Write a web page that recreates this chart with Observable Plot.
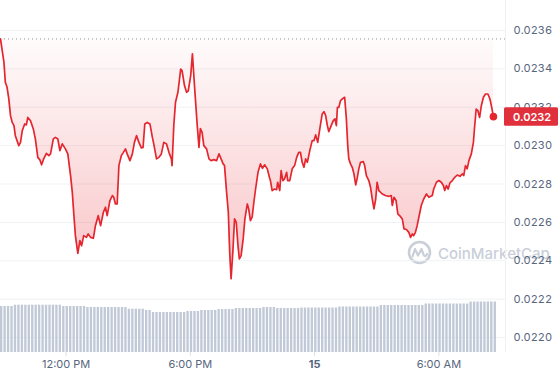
<!DOCTYPE html>
<html><head><meta charset="utf-8">
<script src="https://cdn.jsdelivr.net/npm/d3@7"></script>
<script src="https://cdn.jsdelivr.net/npm/@observablehq/plot@0.6"></script>
<style>
html,body{margin:0;padding:0;background:#fff;}
#chart{position:relative;width:558px;height:380px;font-family:Inter, sans-serif;}
#chart svg{position:absolute;left:0;top:0;overflow:hidden;}
</style></head><body><div id="chart"></div>
<script>
// ---- data ----
const startTime = "2024-06-14T08:50:00Z";
const endTime = "2024-06-15T09:13:00Z";
const priceMinutes = [0,10,14,19,24,29,34,39,43,53,58,63,70,75,79,87,95,101,108,114,119,125,133,140,145,153,159,166,172,179,188,195,203,208,212,217,224,230,235,241,249,254,261,269,275,283,290,298,304,309,317,324,328,333,338,343,350,356,362,367,375,382,388,394,401,408,413,418,425,433,440,444,452,459,466,473,481,488,495,497,502,507,514,522,526,533,539,544,551,556,562,570,575,579,584,589,597,604,610,618,626,633,639,645,649,655,660,664,668,673,678,683,688,692,697,703,708,715,719,724,729,734,739,746,753,759,765,773,779,782,787,794,800,803,809,813,818,823,829,832,838,845,852,858,864,869,874,879,884,889,896,903,908,913,919,925,932,937,942,947,951,958,964,969,973,976,980,985,992,997,1002,1006,1009,1014,1019,1024,1029,1033,1038,1043,1051,1055,1060,1067,1072,1077,1082,1087,1091,1096,1106,1115,1125,1132,1135,1140,1146,1151,1159,1164,1169,1176,1183,1188,1193,1197,1202,1207,1212,1219,1226,1234,1241,1251,1255,1263,1270,1277,1283,1287,1292,1297,1302,1309,1316,1323,1331,1338,1342,1347,1352,1357,1364,1370,1373,1378,1383,1388,1393,1399,1405,1412,1418,1423,1428];
const priceValues = [0.023556,0.023434,0.023330,0.023304,0.023245,0.023156,0.023121,0.023104,0.023052,0.023000,
0.023017,0.023078,0.023113,0.023108,0.023147,0.023130,0.023087,0.023035,0.022939,0.022926,
0.022900,0.022931,0.022960,0.022948,0.022957,0.023035,0.023043,0.023035,0.022974,0.023009,
0.022983,0.022957,0.022844,0.022757,0.022653,0.022531,0.022439,0.022505,0.022479,0.022531,
0.022522,0.022540,0.022522,0.022517,0.022583,0.022635,0.022583,0.022653,0.022679,0.022635,
0.022714,0.022740,0.022731,0.022696,0.022696,0.022896,0.022948,0.022965,0.022983,0.022957,
0.022922,0.022957,0.023017,0.023052,0.023017,0.022988,0.022991,0.023113,0.023121,0.023113,
0.023043,0.023009,0.022931,0.022939,0.022957,0.023017,0.023009,0.022965,0.022931,0.022896,
0.023104,0.023226,0.023278,0.023399,0.023391,0.023313,0.023278,0.023286,0.023365,0.023478,
0.023313,0.023104,0.022991,0.023089,0.023069,0.023000,0.022983,0.022931,0.022922,0.022927,
0.022922,0.022957,0.022931,0.022905,0.022896,0.022757,0.022653,0.022444,0.022306,0.022444,
0.022618,0.022601,0.022479,0.022410,0.022427,0.022514,0.022618,0.022696,0.022670,0.022609,
0.022627,0.022705,0.022774,0.022861,0.022905,0.022882,0.022900,0.022879,0.022835,0.022818,
0.022766,0.022774,0.022771,0.022809,0.022766,0.022870,0.022818,0.022827,0.022861,0.022818,
0.022818,0.022879,0.022896,0.022939,0.022965,0.022965,0.022913,0.022887,0.022931,0.022913,
0.022974,0.023026,0.023026,0.023056,0.023017,0.023087,0.023165,0.023177,0.023156,0.023104,
0.023073,0.023104,0.023130,0.023139,0.023104,0.023199,0.023199,0.023234,0.023246,0.023252,
0.023139,0.023000,0.022931,0.022905,0.022887,0.022853,0.022795,0.022827,0.022879,0.022913,
0.022917,0.022896,0.022844,0.022818,0.022783,0.022722,0.022670,0.022722,0.022809,0.022766,
0.022748,0.022740,0.022736,0.022740,0.022688,0.022731,0.022714,0.022644,0.022630,0.022618,
0.022566,0.022563,0.022548,0.022522,0.022540,0.022531,0.022548,0.022583,0.022627,0.022688,
0.022722,0.022748,0.022731,0.022740,0.022774,0.022809,0.022818,0.022809,0.022792,0.022766,
0.022792,0.022774,0.022806,0.022818,0.022835,0.022847,0.022840,0.022853,0.022844,0.022896,
0.022879,0.022922,0.022957,0.023017,0.023087,0.023191,0.023182,0.023147,0.023208,0.023252,
0.023269,0.023269,0.023243,0.023199,0.023151];
// volume per 10-minute interval (millions, estimated)
const volumeValues = [4.6,4.6,4.6,4.6,
4.73,4.73,4.73,4.73,4.73,4.73,4.73,4.73,4.73,4.73,4.73,4.73,4.73,4.73,
4.6,4.6,4.6,4.6,4.6,4.6,4.6,
4.5,4.5,4.5,4.5,4.5,4.5,4.5,4.5,4.5,4.5,4.5,4.5,
4.33,4.33,4.33,4.33,4.33,
4.2,4.2,
4.0,4.0,4.0,4.0,4.0,4.0,4.0,4.0,4.0,4.0,
4.1,4.1,4.1,4.1,
4.2,4.2,4.2,4.2,4.2,
4.3,4.3,4.3,4.3,4.3,
4.4,4.4,4.4,4.4,4.4,4.4,4.4,4.4,
4.5,4.5,4.5,4.5,
4.4,4.4,4.4,4.4,4.4,4.4,4.4,
4.45,4.45,4.45,4.45,4.45,4.45,4.45,4.45,4.45,4.45,4.45,
4.55,4.55,4.55,4.55,4.55,4.55,4.55,4.55,4.55,4.55,4.55,4.55,
4.7,4.7,4.7,4.7,4.7,4.7,4.7,4.7,4.7,4.7,4.7,4.7,4.7,
4.85,4.85,4.85,4.85,4.85,4.85,4.85,4.85,4.85,4.85,4.85,4.85,4.85,
5.05,5.05,5.05,5.05,5.05,5.05,5.05,5.05];
const volumeIntervalMinutes = 10;
const yTickValues = [0.0220,0.0222,0.0224,0.0226,0.0228,0.0230,0.0232,0.0234,0.0236];
const xTickTimes = ["2024-06-14T12:00:00Z","2024-06-14T18:00:00Z","2024-06-15T00:00:00Z","2024-06-15T06:00:00Z"];
const xTickLabels = ["12:00 PM","6:00 PM","15","6:00 AM"];
const currentLabel = "0.0232";
const watermarkText = "CoinMarketCap";

// ---- build ----
const t0 = new Date(startTime);
const price = priceMinutes.map((m,i)=>({t:new Date(+t0 + m*60000), v:priceValues[i]}));
const vol = volumeValues.map((v,i)=>({t1:new Date(+t0 + i*volumeIntervalMinutes*60000), t2:new Date(+t0 + (i+1)*volumeIntervalMinutes*60000), v}));
const openValue = priceValues[0];
const last = price[price.length-1];
const xDomain = [new Date(startTime), new Date(endTime)];
const xTicks = xTickTimes.map(d=>new Date(d));
const tickObjs = xTicks.map((d,i)=>({d, label:xTickLabels[i]}));

const W=558, H=380, mT=30, mB=28, mL=0, mR=53;
const yDomain = [0.021922, 0.0236];
const pxPerUnit = (H-mT-mB)/(yDomain[1]-yDomain[0]);
const txt = "#58667e", grid="#eff2f5", red="#e4262f";

const chart = Plot.plot({
  width:W, height:H, marginTop:mT, marginBottom:mB, marginLeft:mL, marginRight:mR,
  style:{fontFamily:"Inter, sans-serif", fontSize:"11px", color:txt, background:"transparent"},
  x:{type:"utc", domain:xDomain, axis:null},
  y:{domain:yDomain, axis:null},
  marks:[
    Plot.gridY(yTickValues, {stroke:grid, strokeOpacity:1}),
    Plot.ruleX([xDomain[1]], {y1:yDomain[0], y2:0.0245, stroke:grid, strokeOpacity:1}),
    Plot.areaY(price, {x:"t", y1:"v", y2:()=>openValue, fill:"url(#priceGradient)"}),
    Plot.ruleY([openValue], {stroke:"#8a8f99", strokeDasharray:"1,3", strokeWidth:1}),
    Plot.line(price, {x:"t", y:"v", stroke:red, strokeWidth:1.7, curve:"linear"}),
    Plot.dot([last], {x:"t", y:"v", r:3.8, fill:red}),
    Plot.axisY(yTickValues, {anchor:"right", label:null, tickSize:0, tickPadding:8, textAnchor:"start", tickFormat:d=>d.toFixed(4), fill:txt, fontSize:11}),
    Plot.ruleX(xTicks, {x:d=>d, y1:yDomain[0], y2:yDomain[0]-4/pxPerUnit, stroke:"#dde1e6"}),
    Plot.text(tickObjs.filter(o=>o.label!=="15"), {x:"d", text:"label", frameAnchor:"bottom", dy:15, fill:txt, fontSize:11}),
    Plot.text(tickObjs.filter(o=>o.label==="15"), {x:"d", text:"label", frameAnchor:"bottom", dy:15, fill:txt, fontSize:11, fontWeight:"bold"})
  ]
});

const svg = d3.select(chart);
// gradient
const defs = svg.insert("defs", ":first-child");
const lg = defs.append("linearGradient").attr("id","priceGradient").attr("x1",0).attr("y1",0).attr("x2",0).attr("y2",1);
lg.append("stop").attr("offset","0%").attr("stop-color","#ea3943").attr("stop-opacity",0.02);
lg.append("stop").attr("offset","100%").attr("stop-color","#ea3943").attr("stop-opacity",0.3);

// watermark (behind axes)
const wm = svg.insert("g", "defs + *").attr("fill","none");
wm.append("circle").attr("cx",419.5).attr("cy",252.5).attr("r",10.5).attr("stroke","#c9cfd9").attr("stroke-width",2.6);
wm.append("path").attr("d","M412.5,256.5 L415,249 L418,255.5 L421.5,249 L423.5,254.5 C424.5,257 426.5,256.5 427,254").attr("stroke","#c9cfd9").attr("stroke-width",2.2).attr("stroke-linejoin","round").attr("stroke-linecap","round");
wm.append("text").attr("x",438).attr("y",258.5).attr("text-anchor","start").attr("fill","#c9cfd9").attr("font-size",15).attr("font-weight",500).attr("font-family","Inter, sans-serif").text(watermarkText);

// current price tag
const yy = chart.scale("y").apply(last.v);
const tag = svg.append("g");
tag.append("rect").attr("x",W-mR-1).attr("y",yy-8.8).attr("width",mR+1).attr("height",18.5).attr("fill","#e0303b").attr("rx",1.5);
tag.append("text").attr("x",W-mR+8).attr("y",yy+0.5).attr("dy","0.35em").attr("text-anchor","start").attr("fill","#fff").attr("font-size",11).attr("font-weight",600).attr("font-family","Inter, sans-serif").text(currentLabel);

// volume overlay
const volChart = Plot.plot({
  width:W, height:H, marginTop:H-mB-100, marginBottom:mB, marginLeft:mL, marginRight:mR,
  style:{background:"transparent"},
  x:{type:"utc", domain:xDomain, axis:null},
  y:{domain:[0,10], axis:null},
  marks:[
    Plot.rectY(vol, {x1:"t1", x2:"t2", y:"v", fill:"#c1c9d7", insetRight:1.1})
  ]
});

const root = document.getElementById("chart");
root.appendChild(chart);
root.appendChild(volChart);
</script></body></html>
